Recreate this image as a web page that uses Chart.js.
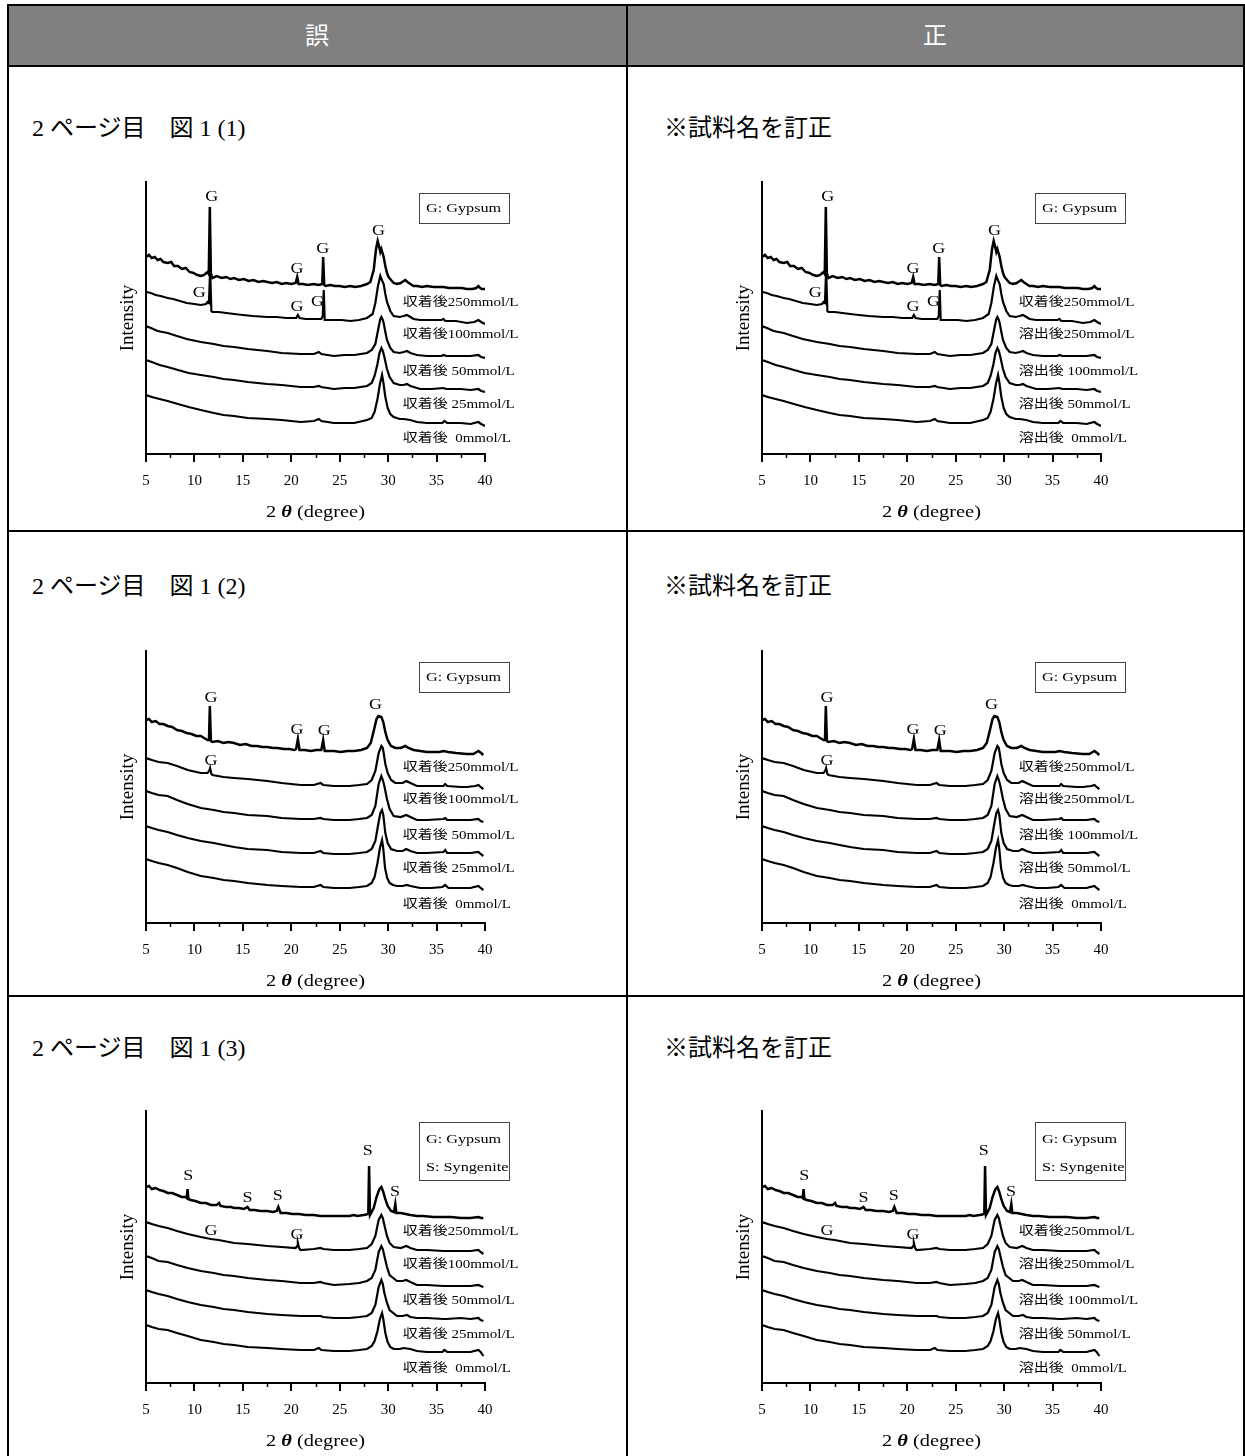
<!DOCTYPE html>
<html lang="ja">
<head>
<meta charset="utf-8">
<title>図1 正誤表</title>
<script src="https://cdn.jsdelivr.net/npm/chart.js@4.4.0/dist/chart.umd.min.js"></script>
<style>
  html, body { margin: 0; padding: 0; background: #fff; }
  #page { position: relative; width: 1245px; height: 1456px; overflow: hidden; }
  .line { position: absolute; background: #000; }
  .head { position: absolute; left: 8px; top: 5px; width: 1236px; height: 61px; background: #808080; }
  .headtxt { position: absolute; top: 18px; width: 60px; margin-left: -30px; text-align: center; color: #fff;
             font: 24px "Noto Sans CJK JP", sans-serif; line-height: 32px; }
  .cap { position: absolute; font: 24px "Liberation Serif", "Noto Sans CJK JP", serif; line-height: 30px; white-space: pre; }
  canvas { position: absolute; }
</style>
</head>
<body>
<div id="page">
  <div class="head"></div>
  <div class="headtxt" style="left:317px">誤</div>
  <div class="headtxt" style="left:935px">正</div>

  <div class="cap" style="left:32px;top:113px">2 ページ目　図 1 (1)</div>
  <div class="cap" style="left:664px;top:113px">※試料名を訂正</div>
  <div class="cap" style="left:32px;top:571px">2 ページ目　図 1 (2)</div>
  <div class="cap" style="left:664px;top:571px">※試料名を訂正</div>
  <div class="cap" style="left:32px;top:1033px">2 ページ目　図 1 (3)</div>
  <div class="cap" style="left:664px;top:1033px">※試料名を訂正</div>

  <div class="line" style="left:7px;top:4px;width:1238px;height:2px"></div>
  <div class="line" style="left:7px;top:65px;width:1238px;height:2px"></div>
  <div class="line" style="left:7px;top:530px;width:1238px;height:2px"></div>
  <div class="line" style="left:7px;top:995px;width:1238px;height:2px"></div>
  <div class="line" style="left:7px;top:4px;width:2px;height:1452px"></div>
  <div class="line" style="left:626px;top:4px;width:2px;height:1452px"></div>
  <div class="line" style="left:1243px;top:4px;width:2px;height:1452px"></div>

  <canvas id="c1a" width="444" height="358"></canvas>
  <canvas id="c1b" width="444" height="358"></canvas>
  <canvas id="c2a" width="444" height="358"></canvas>
  <canvas id="c2b" width="444" height="358"></canvas>
  <canvas id="c3a" width="444" height="358"></canvas>
  <canvas id="c3b" width="444" height="358"></canvas>
</div>

<script>
// x axis ticks
const xTicks = [5, 10, 15, 20, 25, 30, 35, 40];
const minorTicks = [7.5, 12.5, 17.5, 22.5, 27.5, 32.5, 37.5];

// sample names (wrong / corrected)
const wrongNames = ['収着後250mmol/L', '収着後100mmol/L', '収着後 50mmol/L', '収着後 25mmol/L', '収着後  0mmol/L'];
const rightNames = ['収着後250mmol/L', '溶出後250mmol/L', '溶出後 100mmol/L', '溶出後 50mmol/L', '溶出後  0mmol/L'];

// ---- 図1(1) : [2θ, intensity] ----
const a250 = [[5.00,197],[5.3,199],[5.6,196],[5.9,197],[6.2,194],[6.5,195],[6.8,192],[7.23,191],[7.6,192],[7.9,188],[8.3,188],[8.7,185],[9.1,186],[9.5,182],[9.9,181],[10.3,179],[10.66,178],[11.0,179],[11.35,182],[11.48,180],[11.59,247],[11.7,180],[11.86,176],[12.3,178],[12.8,176],[13.3,177],[13.7,175],[14.09,176],[14.6,174],[15.1,175],[15.6,173],[16.1,174],[16.6,172],[17.1,173],[17.53,172],[18.0,171],[18.5,172],[19.0,170],[19.5,171],[20.0,170],[20.45,171],[20.61,177],[20.75,170],[21.2,170],[21.7,169],[22.33,170],[22.8,169],[23.2,170],[23.29,197],[23.4,169],[23.53,168],[24.0,169],[24.5,168],[25.0,168],[25.5,167],[26.1,168],[26.6,167],[27.2,168],[27.82,170],[28.16,172],[28.51,184],[28.75,205],[28.92,213],[29.05,208],[29.19,202],[29.3,205],[29.45,200],[29.54,197],[29.71,188],[29.88,181],[30.05,177],[30.3,174],[30.57,171],[30.9,170],[31.3,171],[31.6,173],[31.77,174],[32.0,172],[32.3,170],[32.63,168],[33.0,168],[33.5,167],[34.0,168],[34.68,167],[35.2,167],[35.71,167],[36.3,166],[37.0,166],[37.6,166],[38.12,165],[38.7,165],[39.1,166],[39.32,168],[39.5,166],[39.7,165],[40.0,165]];
const a100 = [[5.00,162],[5.5,161],[6.0,159],[6.5,158],[7.23,156],[7.8,155],[8.5,153],[9.2,151],[10.0,150],[10.66,149],[11.2,150],[11.35,152],[11.5,151],[11.62,184],[11.75,143],[11.86,142],[12.5,142],[13.3,141],[14.09,140],[15.0,139],[16.0,138],[17.53,137],[18.5,137],[19.5,136],[20.5,136],[20.68,139],[20.85,136],[21.5,135],[22.33,135],[23.1,135],[23.25,138],[23.35,164],[23.45,134],[24.39,134],[25.2,134],[26.1,133],[27.0,134],[27.82,136],[28.4,140],[28.68,151],[28.95,168],[29.19,178],[29.3,175],[29.54,170],[29.71,160],[29.88,152],[30.22,143],[30.57,138],[31.2,137],[31.6,138],[31.94,139],[32.3,137],[32.63,135],[33.3,134],[34.5,134],[35.5,134],[35.71,135],[35.9,133],[37.0,133],[38.12,131],[38.9,132],[39.32,134],[39.6,132],[40.0,130]];
const a50 = [[5.00,128],[5.5,126],[6.2,123],[7.23,121],[8.2,118],[9.2,115],[10.66,112],[12.0,110],[13.0,108],[14.09,107],[15.5,105],[16.5,104],[17.53,103],[19.0,101],[20.96,100],[22.33,100],[22.85,102],[23.1,100],[24.39,98],[25.5,99],[26.5,99],[27.82,101],[28.3,104],[28.68,110],[29.02,127],[29.19,135],[29.3,137],[29.45,134],[29.54,131],[29.71,122],[29.88,114],[30.22,106],[30.57,102],[31.2,101],[31.6,102],[31.94,103],[32.3,101],[32.97,99],[34.0,98],[35.5,98],[35.71,99],[36.0,98],[37.5,98],[38.5,98],[39.32,99],[39.6,97],[40.0,96]];
const a25 = [[5.00,94],[5.6,92],[6.4,89],[7.23,87],[8.3,84],[9.4,81],[10.66,79],[12.0,77],[13.0,75],[14.09,74],[15.5,72],[17.53,70],[19.0,69],[20.96,67],[22.33,67],[22.85,68],[23.1,67],[24.39,65],[25.5,66],[26.5,66],[27.82,68],[28.3,71],[28.6,78],[28.9,90],[29.1,101],[29.3,106],[29.45,103],[29.61,97],[29.88,85],[30.15,77],[30.57,71],[31.2,69],[31.6,69],[31.94,70],[32.3,68],[33.31,65],[34.5,65],[35.71,66],[36.0,65],[37.5,65],[38.5,64],[39.32,65],[39.6,63],[40.0,62]];
const a0 = [[5.00,59],[5.6,57],[6.4,55],[7.23,53],[8.3,50],[9.4,47],[10.66,44],[12.0,41],[13.0,39],[14.09,38],[15.5,36],[17.53,35],[19.0,34],[20.96,32],[22.33,33],[22.85,35],[23.1,33],[24.39,31],[25.5,31],[26.5,31],[27.82,34],[28.3,36],[28.6,42],[28.9,55],[29.15,70],[29.37,79],[29.5,72],[29.71,57],[29.95,46],[30.22,40],[30.57,37],[31.2,35],[31.6,35],[32.28,34],[32.97,32],[34.0,31],[35.6,31],[35.8,33],[36.1,31],[37.5,31],[38.5,30],[39.32,32],[39.6,30],[40.0,28]];
const marks1 = [[11.8,257,'G'],[10.5,161,'G'],[20.6,185,'G'],[23.26,205,'G'],[29.0,223,'G'],[20.6,147,'G'],[22.7,152,'G']];
const nameY1 = [151, 119, 82, 49, 15];

// ---- 図1(2) ----
const b250 = [[5.00,203],[5.3,204],[5.6,201],[6.0,202],[6.4,199],[6.8,199],[7.23,197],[7.7,196],[8.2,193],[8.7,192],[9.2,190],[9.7,189],[10.2,187],[10.66,187],[11.0,185],[11.35,183],[11.5,183],[11.59,217],[11.7,182],[11.86,181],[12.4,182],[13.0,180],[13.5,181],[14.09,180],[14.7,178],[15.3,179],[15.9,177],[16.5,177],[17.0,176],[17.53,176],[18.1,175],[18.6,175],[19.2,174],[19.8,174],[20.3,173],[20.5,174],[20.68,184],[20.85,173],[21.4,173],[22.0,172],[22.6,173],[23.1,173],[23.29,183],[23.45,172],[23.7,172],[24.4,172],[25.1,171],[25.8,172],[26.5,172],[27.2,173],[27.82,175],[28.2,180],[28.51,192],[28.8,204],[29.0,207],[29.3,206],[29.5,201],[29.71,191],[29.95,183],[30.3,177],[30.74,175],[31.3,175],[31.77,177],[32.1,175],[32.63,173],[33.3,172],[34.0,171],[34.68,171],[35.3,171],[35.71,172],[36.2,171],[37.0,170],[38.12,169],[38.8,169],[39.32,172],[39.6,170],[39.83,168]];
const b100 = [[5.00,165],[5.6,163],[6.3,161],[7.23,160],[8.2,157],[9.3,153],[10.66,150],[11.35,150],[11.52,152],[11.62,155],[11.75,149],[11.86,148],[13.0,146],[14.09,145],[15.5,144],[17.53,142],[19.0,140],[20.96,138],[22.33,138],[23.02,140],[23.3,138],[24.39,137],[26.0,137],[27.0,138],[27.82,139],[28.3,143],[28.68,152],[29.02,170],[29.3,177],[29.45,175],[29.54,170],[29.71,159],[29.95,150],[30.3,143],[30.74,140],[31.5,140],[31.87,142],[32.3,140],[32.97,137],[34.0,137],[35.71,137],[35.89,139],[36.1,137],[37.5,136],[38.12,136],[39.0,137],[39.32,138],[39.55,136],[39.83,134]];
const b50 = [[5.00,132],[5.6,130],[6.3,128],[7.23,127],[8.2,123],[9.3,119],[10.66,115],[12.0,113],[13.0,111],[14.09,110],[15.5,108],[17.53,107],[19.0,105],[20.96,104],[22.33,104],[23.02,105],[23.3,104],[24.39,103],[26.0,103],[27.0,104],[27.82,105],[28.3,108],[28.68,117],[29.02,139],[29.3,147],[29.45,143],[29.61,137],[29.88,124],[30.15,114],[30.57,107],[31.3,106],[31.87,108],[32.3,106],[32.97,103],[34.0,103],[35.71,104],[35.9,105],[36.1,103],[37.5,103],[38.5,103],[39.32,104],[39.55,102],[39.83,101]];
const b25 = [[5.00,97],[5.6,95],[6.3,93],[7.23,91],[8.2,88],[9.3,85],[10.66,82],[12.0,80],[13.0,78],[14.09,76],[15.5,74],[17.53,73],[19.0,71],[20.96,70],[22.33,70],[23.02,72],[23.3,70],[24.39,69],[26.0,69],[27.0,70],[27.82,71],[28.3,74],[28.68,82],[29.0,100],[29.2,110],[29.37,113],[29.5,108],[29.71,90],[29.95,80],[30.3,74],[30.91,72],[31.5,72],[31.87,74],[32.3,72],[32.97,70],[34.0,70],[35.71,71],[35.9,73],[36.1,70],[37.5,70],[38.5,70],[39.32,71],[39.55,69],[39.83,67]];
const b0 = [[5.00,64],[5.6,62],[6.3,60],[7.23,58],[8.2,55],[9.3,51],[10.66,47],[12.0,45],[13.0,43],[14.09,42],[15.5,40],[17.53,38],[19.0,37],[20.96,36],[22.33,36],[23.02,38],[23.3,36],[24.39,35],[26.0,35],[27.0,36],[27.82,37],[28.3,40],[28.6,46],[28.9,60],[29.15,75],[29.37,83],[29.5,74],[29.68,55],[29.9,45],[30.15,40],[30.5,38],[30.91,37],[31.5,37],[31.94,38],[32.3,37],[33.31,35],[34.5,35],[35.6,36],[35.89,38],[36.23,35],[37.5,35],[38.5,35],[39.32,37],[39.55,35],[39.83,33]];
const marks2 = [[11.7,225,'G'],[20.6,193,'G'],[23.4,192,'G'],[28.7,218,'G'],[11.7,162,'G']];
const nameY2 = [155, 123, 87, 54, 18];

// ---- 図1(3) ----
const c250 = [[5.00,196],[5.3,197],[5.6,194],[6.0,195],[6.4,193],[6.8,192],[7.23,190],[7.7,190],[8.2,188],[8.7,186],[9.1,186],[9.2,185],[9.29,194],[9.38,184],[9.6,183],[10.1,182],[10.66,180],[11.2,180],[11.7,178],[12.3,178],[12.55,180],[12.7,177],[13.3,176],[13.8,176],[14.09,175],[14.6,175],[15.1,174],[15.47,176],[15.7,173],[16.2,173],[16.8,172],[17.53,172],[18.1,171],[18.5,172],[18.66,176],[18.9,170],[19.5,170],[20.1,169],[20.8,169],[21.5,168],[22.3,168],[23.0,167],[23.8,167],[24.5,167],[25.2,167],[26.0,167],[26.45,168],[26.8,167],[27.48,168],[27.95,169],[28.03,217],[28.13,168],[28.51,175],[28.8,186],[29.1,194],[29.3,196],[29.5,191],[29.7,184],[29.95,177],[30.3,172],[30.6,171],[30.74,179],[30.85,170],[31.3,170],[31.8,169],[32.3,168],[32.97,167],[33.6,167],[34.68,166],[35.5,166],[36.5,166],[37.5,165],[38.5,165],[39.32,166],[39.6,165],[39.83,165]];
const c100 = [[5.00,161],[5.6,159],[6.3,157],[7.23,155],[8.2,152],[9.3,149],[10.66,146],[11.69,144],[12.5,143],[14.09,140],[15.5,139],[17.53,137],[19.0,136],[20.44,135],[20.6,137],[20.68,140],[20.8,135],[20.96,133],[22.33,134],[23.02,135],[23.3,134],[24.39,133],[26.0,133],[27.0,134],[27.82,135],[28.3,139],[28.68,147],[29.02,163],[29.3,168],[29.45,165],[29.61,158],[29.88,147],[30.15,140],[30.57,136],[31.3,135],[31.87,137],[32.3,135],[32.97,133],[34.0,133],[35.71,132],[36.0,132],[37.5,132],[38.5,132],[39.32,133],[39.55,131],[39.83,129]];
const c50 = [[5.00,127],[5.6,125],[6.3,122],[7.23,121],[8.2,118],[9.3,115],[10.66,112],[12.0,110],[13.0,108],[14.09,107],[15.5,105],[17.53,103],[19.0,102],[20.96,100],[22.33,100],[23.02,101],[23.3,100],[24.39,98],[26.0,99],[27.0,100],[27.82,102],[28.3,105],[28.68,113],[29.02,131],[29.3,137],[29.45,134],[29.61,127],[29.88,116],[30.15,108],[30.91,102],[31.5,102],[31.87,103],[32.3,101],[32.97,98],[34.0,98],[35.71,97],[36.0,97],[37.5,97],[38.5,97],[39.32,98],[39.55,97],[39.83,96]];
const c25 = [[5.00,93],[5.6,91],[6.3,89],[7.23,87],[8.2,84],[9.3,81],[10.66,78],[12.0,76],[13.0,74],[14.09,73],[15.5,71],[17.53,69],[19.0,68],[20.96,67],[22.33,67],[23.02,67],[23.3,66],[24.39,65],[26.0,65],[27.0,66],[27.82,67],[28.3,70],[28.68,78],[29.02,96],[29.3,103],[29.45,99],[29.61,90],[29.88,80],[30.15,73],[30.91,67],[31.5,67],[31.94,68],[32.3,66],[32.97,65],[34.0,65],[35.71,64],[36.0,64],[37.5,65],[38.5,64],[39.32,65],[39.55,63],[39.83,62]];
const c0 = [[5.00,58],[5.6,56],[6.3,54],[7.23,53],[8.2,50],[9.3,47],[10.66,43],[12.0,41],[13.0,39],[14.09,38],[15.5,36],[17.53,35],[19.0,34],[20.96,33],[22.33,33],[22.85,35],[23.1,33],[24.39,32],[26.0,32],[27.0,33],[27.82,34],[28.3,37],[28.6,42],[28.9,52],[29.15,64],[29.37,70],[29.5,64],[29.71,50],[29.95,41],[30.22,36],[30.57,34],[31.2,34],[31.6,35],[32.28,34],[32.97,32],[34.0,31],[35.6,31],[35.8,33],[36.1,31],[37.5,31],[38.5,31],[39.32,33],[39.55,31],[39.83,27]];
const marks3 = [[9.36,207,'S'],[15.47,185,'S'],[18.6,187,'S'],[27.9,232,'S'],[30.7,191,'S'],[11.7,152,'G'],[20.6,148,'G']];
const nameY3 = [151, 118, 82, 48, 14];

const legendG = ['G: Gypsum'];
const legendGS = ['G: Gypsum', 'S: Syngenite'];

const SERIF = '"Liberation Serif", "Noto Sans CJK JP", serif';
const SX = 1.2; // the original figure text is a bit wide
const nameX = 31.5;

Chart.defaults.font.family = SERIF;
Chart.defaults.color = '#000';

// draw text stretched horizontally
function wideText(ctx, text, px, py, align) {
    ctx.save();
    ctx.translate(px, py);
    ctx.scale(SX, 1);
    ctx.textAlign = align;
    ctx.textBaseline = 'middle';
    ctx.fillText(text, 0, 0);
    ctx.restore();
}

function xrdPlugin(marks, names, nameY, legend) {
    return {
        id: 'xrdText',
        afterDraw(chart) {
            const ctx = chart.ctx;
            const a = chart.chartArea;
            const x = chart.scales.x, y = chart.scales.y;
            ctx.save();
            ctx.fillStyle = '#000';
            ctx.strokeStyle = '#000';

            // minor ticks
            ctx.lineWidth = 1.5;
            minorTicks.forEach(v => {
                const px = Math.round(x.getPixelForValue(v)) + 0.5;
                ctx.beginPath();
                ctx.moveTo(px, a.bottom);
                ctx.lineTo(px, a.bottom + 4);
                ctx.stroke();
            });

            // peak marks
            ctx.font = '15px ' + SERIF;
            marks.forEach(m => wideText(ctx, m[2], x.getPixelForValue(m[0]), y.getPixelForValue(m[1]), 'center'));

            // sample names
            ctx.font = '12.5px ' + SERIF;
            names.forEach((n, i) => wideText(ctx, n, x.getPixelForValue(nameX), y.getPixelForValue(nameY[i]), 'left'));

            // legend box
            const bx = a.left + 273, by = a.top + 11;
            const bh = legend.length > 1 ? 58 : 30;
            ctx.lineWidth = 1;
            ctx.strokeStyle = '#444';
            ctx.strokeRect(bx + 0.5, by + 0.5, 90, bh);
            ctx.font = '13.5px ' + SERIF;
            legend.forEach((t, i) => {
                const ty = legend.length > 1 ? by + 17 + i * 28 : by + 15.5;
                wideText(ctx, t, bx + 7, ty, 'left');
            });

            // x axis title: 2 θ (degree)
            const cx = (a.left + a.right) / 2, ty = a.bottom + 59;
            const p1 = '2 ', p3 = ' (degree)';
            ctx.font = '17px ' + SERIF;
            const w1 = ctx.measureText(p1).width, w3 = ctx.measureText(p3).width;
            ctx.font = 'italic bold 17px "Liberation Serif"';
            const w2 = ctx.measureText('θ').width;
            let sx = cx - (w1 + w2 + w3) * SX / 2;
            ctx.font = '17px ' + SERIF;
            wideText(ctx, p1, sx, ty, 'left');
            sx += w1 * SX;
            ctx.font = 'italic bold 17px "Liberation Serif"';
            wideText(ctx, 'θ', sx, ty, 'left');
            sx += w2 * SX;
            ctx.font = '17px ' + SERIF;
            wideText(ctx, p3, sx, ty, 'left');
            ctx.restore();
        }
    };
}

// Create one XRD chart
function makeChart(id, plotLeft, axisY, series, marks, names, nameY, legend) {
    const canvas = document.getElementById(id);
    canvas.style.left = (plotLeft - 50) + 'px';
    canvas.style.top = (axisY - 272 - 12) + 'px';

    return new Chart(canvas.getContext('2d'), {
        type: 'line',
        data: {
            datasets: series.map((pts, i) => ({
                data: pts.map(p => ({ x: p[0], y: p[1] })),
                borderColor: '#000',
                borderWidth: i === 0 ? 2.5 : 2.2,
                pointRadius: 0,
                tension: 0,
                fill: false
            }))
        },
        options: {
            responsive: false,
            animation: false,
            events: [],
            layout: { padding: { top: 12, right: 55, left: 0, bottom: 0 } },
            plugins: { legend: { display: false }, tooltip: { enabled: false } },
            scales: {
                x: {
                    type: 'linear',
                    min: 5,
                    max: 40,
                    afterBuildTicks: s => { s.ticks = xTicks.map(v => ({ value: v })); },
                    afterFit: s => { s.height = 74; },
                    ticks: { font: { size: 15 }, padding: 10, maxRotation: 0, autoSkip: false, color: '#000' },
                    grid: { drawOnChartArea: false, drawTicks: true, tickLength: 8, color: '#000', lineWidth: 2 },
                    border: { display: true, color: '#000', width: 2 }
                },
                y: {
                    min: 0,
                    max: 272,
                    afterFit: s => { s.width = 50; },
                    ticks: { display: false },
                    grid: { display: false, drawTicks: false },
                    border: { display: true, color: '#000', width: 2 },
                    title: { display: true, text: 'Intensity', font: { size: 19 }, color: '#000', padding: { top: 21, bottom: 0 } }
                }
            }
        },
        plugins: [xrdPlugin(marks, names, nameY, legend)]
    });
}

const set1 = [a250, a100, a50, a25, a0];
const set2 = [b250, b100, b50, b25, b0];
const set3 = [c250, c100, c50, c25, c0];

makeChart('c1a', 146, 454, set1, marks1, wrongNames, nameY1, legendG);
makeChart('c1b', 762, 454, set1, marks1, rightNames, nameY1, legendG);
makeChart('c2a', 146, 923, set2, marks2, wrongNames, nameY2, legendG);
makeChart('c2b', 762, 923, set2, marks2, rightNames, nameY2, legendG);
makeChart('c3a', 146, 1383, set3, marks3, wrongNames, nameY3, legendGS);
makeChart('c3b', 762, 1383, set3, marks3, rightNames, nameY3, legendGS);
</script>
</body>
</html>
